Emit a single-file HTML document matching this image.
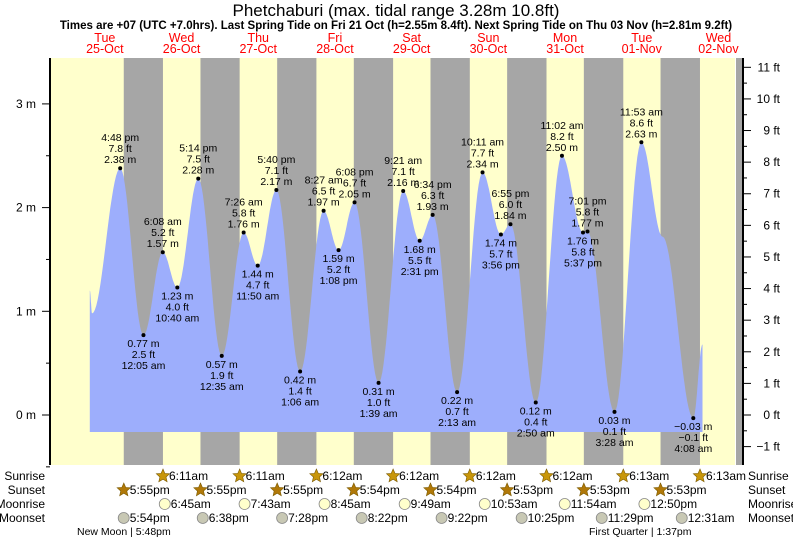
<!DOCTYPE html>
<html><head><meta charset="utf-8"><style>
body{margin:0;background:#fff;}
svg{display:block;font-family:"Liberation Sans",sans-serif;}
</style></head><body>
<svg id="c" width="793" height="539" viewBox="0 0 793 539">
<text x="396" y="16" text-anchor="middle" font-size="17" fill="#000">Phetchaburi (max. tidal range 3.28m 10.8ft)</text>
<text x="396" y="29" text-anchor="middle" font-size="11.5" font-weight="bold" fill="#000">Times are +07 (UTC +7.0hrs). Last Spring Tide on Fri 21 Oct (h=2.55m 8.4ft). Next Spring Tide on Thu 03 Nov (h=2.81m 9.2ft)</text>
<g id="bg"></g><g id="tide"></g><g id="axes"></g><g id="lbl"></g><g id="bottom"></g>
</svg>
<script>
// ---- data ----
const dayNames=["Tue","Wed","Thu","Fri","Sat","Sun","Mon","Tue","Wed"];
const dayDates=["25-Oct","26-Oct","27-Oct","28-Oct","29-Oct","30-Oct","31-Oct","01-Nov","02-Nov"];
// tide extremes: hours since 25-Oct 00:00, height m
const tideHours=[7.3,8.0,16.8,24.08,30.13,34.67,41.23,48.58,55.43,59.83,65.67,73.1,80.45,85.13,90.13,97.65,105.35,110.52,114.57,122.22,130.18,135.93,138.92,146.83,155.03,161.62,163.02,171.47,179.88,186.5,196.13,199.0];
const tideHeights=[1.2,0.98,2.38,0.77,1.57,1.23,2.28,0.57,1.76,1.44,2.17,0.42,1.97,1.59,2.05,0.31,2.16,1.68,1.93,0.22,2.34,1.74,1.84,0.12,2.50,1.76,1.77,0.03,2.63,1.72,-0.03,0.68];
// labelled extremes: index into tide arrays, time label, ft label, high/low
const labIdx=[2,3,4,5,6,7,8,9,10,11,12,13,14,15,16,17,18,19,20,21,22,23,24,25,26,27,28,30];
const labTime=["4:48 pm","12:05 am","6:08 am","10:40 am","5:14 pm","12:35 am","7:26 am","11:50 am","5:40 pm","1:06 am","8:27 am","1:08 pm","6:08 pm","1:39 am","9:21 am","2:31 pm","6:34 pm","2:13 am","10:11 am","3:56 pm","6:55 pm","2:50 am","11:02 am","5:37 pm","7:01 pm","3:28 am","11:53 am","4:08 am"];
const labFt=["7.8","2.5","5.2","4.0","7.5","1.9","5.8","4.7","7.1","1.4","6.5","5.2","6.7","1.0","7.1","5.5","6.3","0.7","7.7","5.7","6.0","0.4","8.2","5.8","5.8","0.1","8.6","\u22120.1"];
const labHigh=[1,0,1,0,1,0,1,0,1,0,1,0,1,0,1,0,1,0,1,0,1,0,1,0,1,0,1,0];
const sunsetH=[17.92,17.92,17.92,17.9,17.9,17.88,17.88,17.88];
const sunsetT=["5:55pm","5:55pm","5:55pm","5:54pm","5:54pm","5:53pm","5:53pm","5:53pm"];
const sunriseH=[6.18,6.18,6.2,6.2,6.2,6.2,6.22,6.22];
const sunriseT=["6:11am","6:11am","6:12am","6:12am","6:12am","6:12am","6:13am","6:13am"];
const moonriseH=[6.75,7.72,8.75,9.82,10.88,11.9,12.83];
const moonriseT=["6:45am","7:43am","8:45am","9:49am","10:53am","11:54am","12:50pm"];
const moonsetDay=[0,1,2,3,4,5,6,8];
const moonsetH=[17.9,18.63,19.47,20.37,21.37,22.42,23.48,0.52];
const moonsetT=["5:54pm","6:38pm","7:28pm","8:22pm","9:22pm","10:25pm","11:29pm","12:31am"];
const yTicksM=[0,1,2,3];
const yTicksFt=[-1,0,1,2,3,4,5,6,7,8,9,10,11];

// ---- scales ----
const NS="http://www.w3.org/2000/svg";
const X0=66.5,PXD=76.7,PL=50,PR=743,PT=58,PB=465,Y0=415,PXM=103.7;
const xh=h=>X0+h*PXD/24, ym=m=>Y0-m*PXM;
function mk(tag,attrs,parent,txt){const e=document.createElementNS(NS,tag);for(const k in attrs)e.setAttribute(k,attrs[k]);if(txt!==undefined)e.textContent=txt;parent.appendChild(e);return e;}
const bg=document.getElementById('bg'),tide=document.getElementById('tide'),ax=document.getElementById('axes'),lbl=document.getElementById('lbl'),bot=document.getElementById('bottom');

// background
let r=mk('rect',{x:PL,y:PT,width:735-PL,height:PB-PT,fill:'#ffffcc'},bg);


for(let d=0;d<8;d++){
  const x1=xh(d*24+sunsetH[d]),x2=xh((d+1)*24+sunriseH[d]);
  const n=mk('rect',{x:x1,y:PT,width:x2-x1,height:PB-PT,fill:'#a6a6a6'},bg);
  
  
}
r=mk('rect',{x:736,y:PT,width:PR-736,height:PB-PT,fill:'#a6a6a6'},bg);



// day labels
for(let d=0;d<9;d++){
  const x=xh(d*24+12);
  let t=mk('text',{x:x,y:42,'text-anchor':'middle','font-size':12.5,fill:'#ff0000'},ax,dayNames[d]);
  
  
  t=mk('text',{x:x,y:53,'text-anchor':'middle','font-size':12.5,fill:'#ff0000'},ax,dayDates[d]);
  
  
}

// tide curve
let pts=[];
for(let i=0;i<tideHours.length-1;i++){
  const h1=tideHours[i],h2=tideHours[i+1],v1=tideHeights[i],v2=tideHeights[i+1];
  for(let s=0;s<=20;s++){const f=s/20;const v=v1+(v2-v1)*(1-Math.cos(Math.PI*f))/2;pts.push([xh(h1+(h2-h1)*f),ym(v)]);}
}
const base=432;
let dstr='M'+pts[0][0].toFixed(1)+','+base+' '+pts.map(p=>'L'+p[0].toFixed(1)+','+p[1].toFixed(1)).join(' ')+' L'+pts[pts.length-1][0].toFixed(1)+','+base+' Z';
const path=mk('path',{d:dstr,fill:'#9daefc',stroke:'none'},tide);



// labels on extremes
for(let k=0;k<labIdx.length;k++){
  const i=labIdx[k],x=xh(tideHours[i]),y=ym(tideHeights[i]);
  const dot=mk('circle',{cx:x,cy:y,r:2,fill:'#000'},lbl);
  
  
  const m=tideHeights[i].toFixed(2).replace('-','\u2212')+' m',ft=labFt[k]+' ft',tm=labTime[k];
  const lines=labHigh[k]?[[tm,y-27],[ft,y-16],[m,y-5]]:[[m,y+12],[ft,y+23],[tm,y+34]];
  for(const [s,yy] of lines){
    const t=mk('text',{x:x,y:yy,'text-anchor':'middle','font-size':10.5,fill:'#000'},lbl,s);
    
    
  }
}

// axes
let l=mk('line',{x1:PL,y1:PT,x2:PL,y2:PB,stroke:'#000','stroke-width':2},ax);


l=mk('line',{x1:PR,y1:PT,x2:PR,y2:PB,stroke:'#000','stroke-width':2},ax);


for(let m=-0.5;m<=3.3;m+=0.5){const y=ym(m);mk('line',{x1:PL-(Number.isInteger(m)?8:4),y1:y,x2:PL,y2:y,stroke:'#000'},ax);}
yTicksM.forEach(m=>{const t=mk('text',{x:36,y:ym(m)+4,'text-anchor':'end','font-size':12,fill:'#000'},ax,m+' m');
  
  });
yTicksFt.forEach(f=>{const y=ym(f*0.3048);mk('line',{x1:PR,y1:y,x2:PR+8,y2:y,stroke:'#000'},ax);
  const y2=ym((f+0.5)*0.3048);if(f<11)mk('line',{x1:PR,y1:y2,x2:PR+4,y2:y2,stroke:'#000'},ax);
  const t=mk('text',{x:780,y:y+4,'text-anchor':'end','font-size':12,fill:'#000'},ax,(f<0?'\u2212'+(-f):f)+' ft');
  
  });

// bottom rows
const rows=[['Sunrise',480],['Sunset',494],['Moonrise',508],['Moonset',522]];
rows.forEach(([n,y])=>{
  let t=mk('text',{x:45,y:y,'text-anchor':'end','font-size':12,fill:'#000'},bot,n);
  
  
  t=mk('text',{x:748,y:y,'font-size':12,fill:'#000'},bot,n);
  
  
});
function star(cx,cy,fill){let p='';for(let i=0;i<10;i++){const a=-Math.PI/2+i*Math.PI/5,rr=i%2?3.2:7;p+=(cx+rr*Math.cos(a)).toFixed(1)+','+(cy+rr*Math.sin(a)).toFixed(1)+' ';}return mk('polygon',{points:p,fill:fill,stroke:'#7a5a00','stroke-width':0.6},bot);}
function addEv(x,y,kind,txt,name){
  let ic;
  if(kind=='rise')ic=star(x,y-4,'#c8960a');
  else if(kind=='set')ic=star(x,y-4,'#b07808');
  else ic=mk('circle',{cx:x,cy:y-4,r:5.5,fill:kind=='mr'?'#ffffcc':'#c8c8b4',stroke:'#888','stroke-width':0.8},bot);
  
  
  const t=mk('text',{x:x+6,y:y,'font-size':12,fill:'#000'},bot,txt);
  
  
}
for(let d=0;d<8;d++)addEv(xh((d+1)*24+sunriseH[d]),480,'rise',sunriseT[d],'sunrise');
for(let d=0;d<8;d++)addEv(xh(d*24+sunsetH[d]),494,'set',sunsetT[d],'sunset');
for(let d=0;d<7;d++)addEv(xh((d+1)*24+moonriseH[d]),508,'mr',moonriseT[d],'moonrise');
for(let d=0;d<8;d++)addEv(xh(moonsetDay[d]*24+moonsetH[d]),522,'ms',moonsetT[d],'moonset');
let t=mk('text',{x:77,y:535,'font-size':10.5,fill:'#000'},bot,'New Moon | 5:48pm');


t=mk('text',{x:589,y:535,'font-size':10.5,fill:'#000'},bot,'First Quarter | 1:37pm');


</script>
</body></html>
